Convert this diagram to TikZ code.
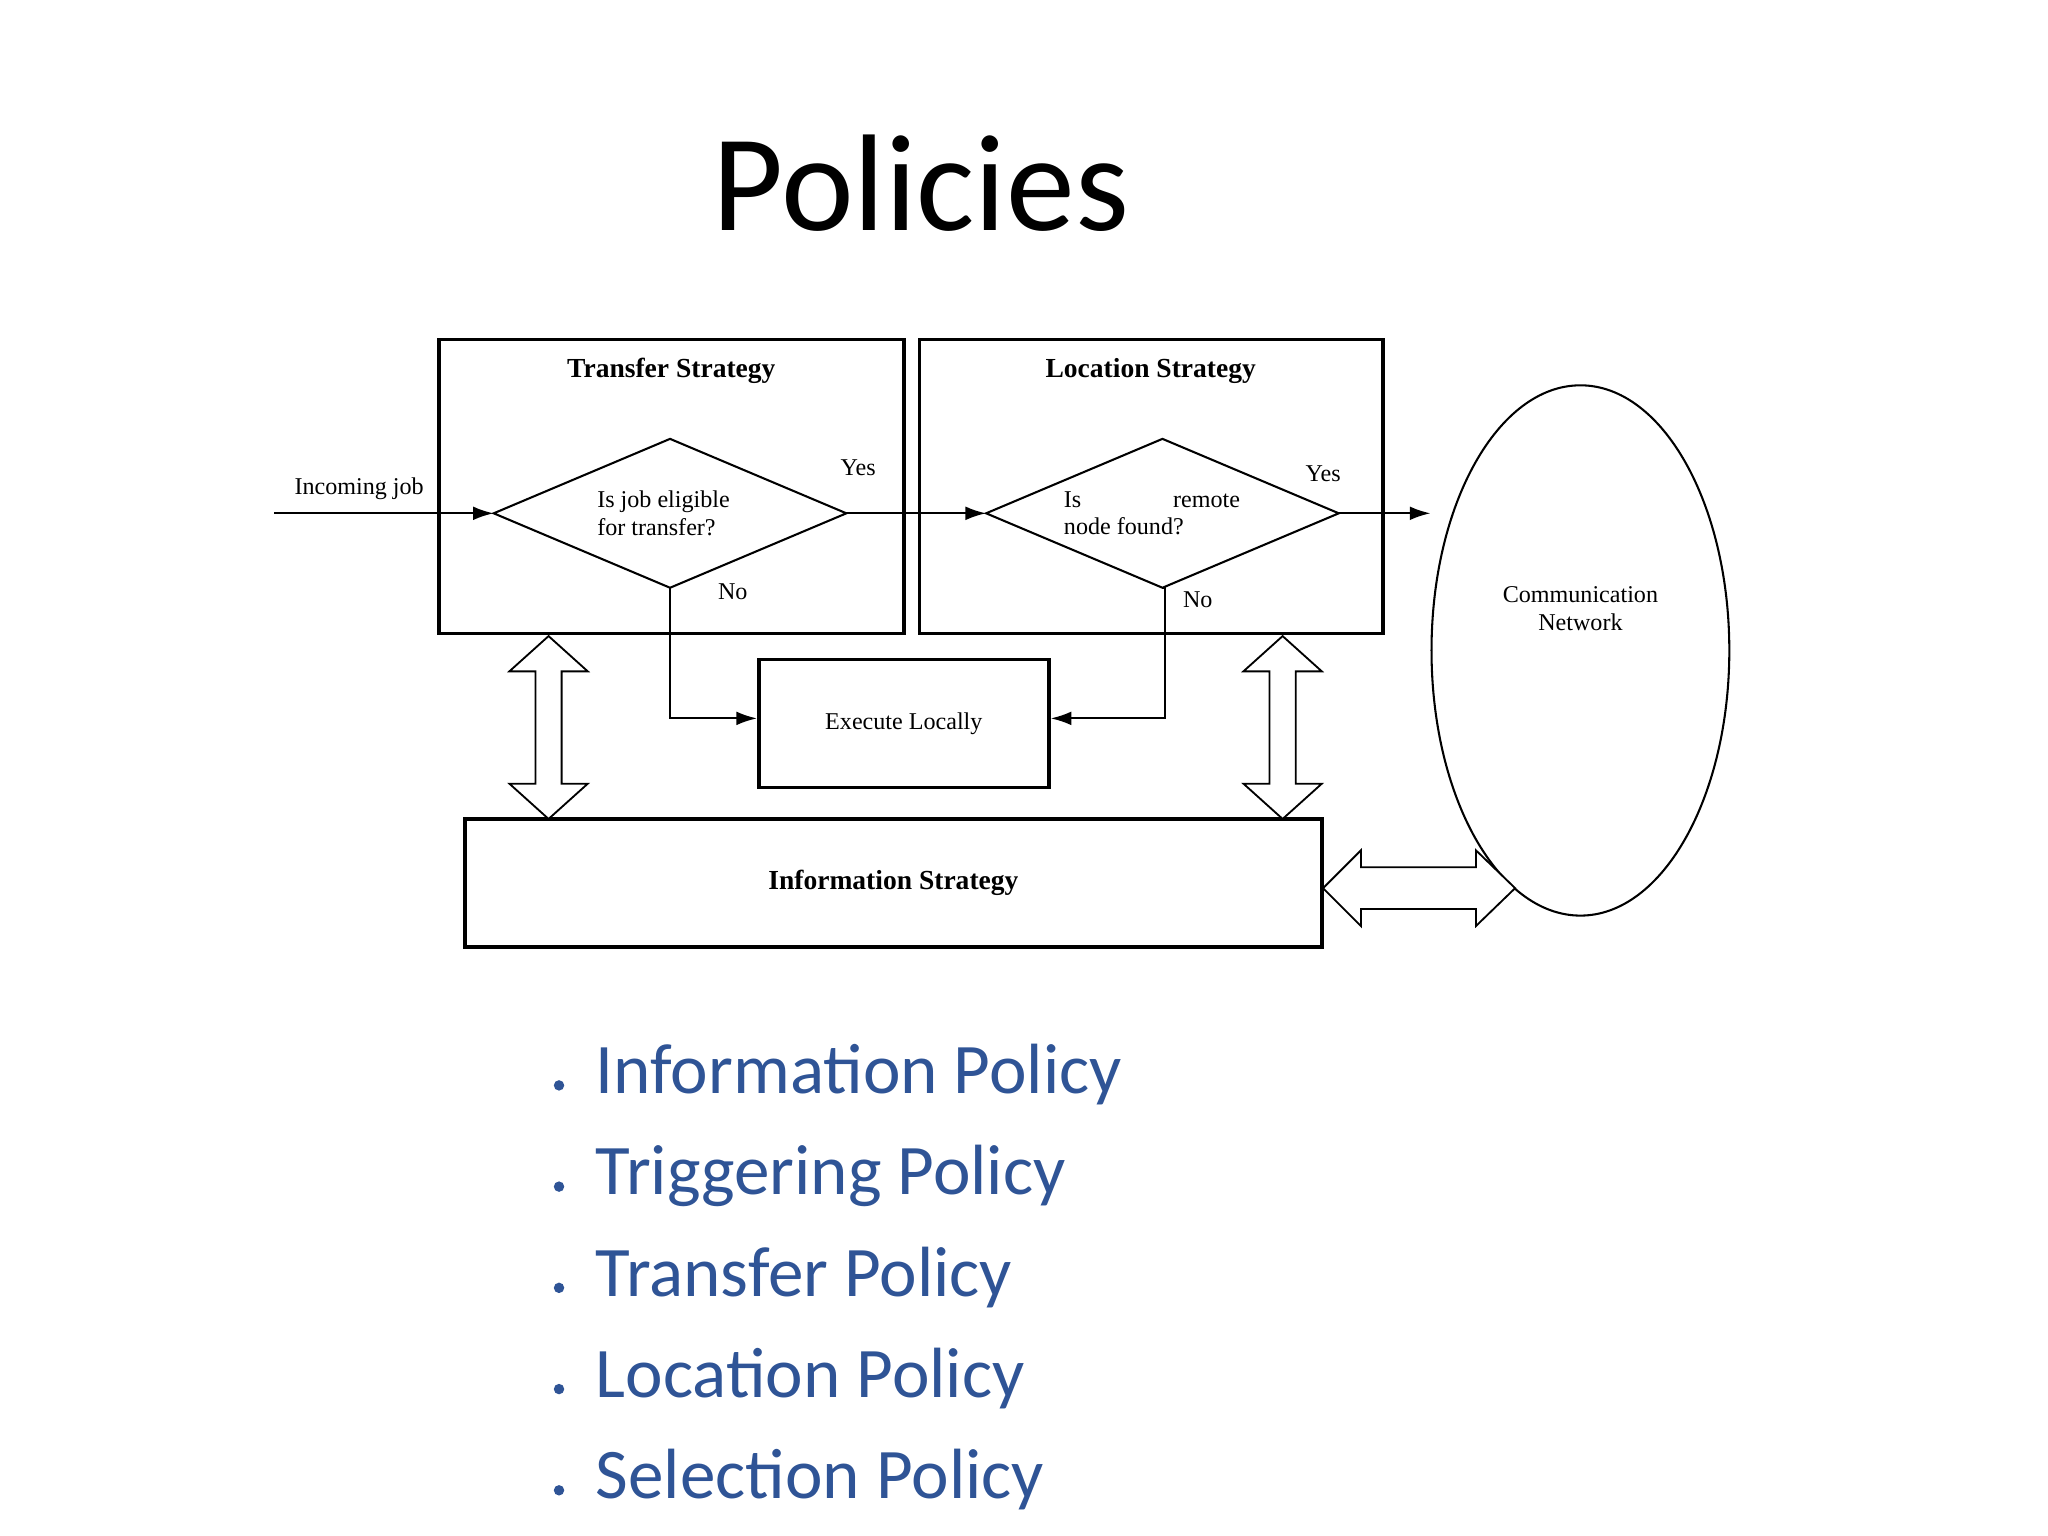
\documentclass[tikz,border=0pt]{standalone}
\usepackage{fontspec}
\setmainfont{Carlito}
\newfontfamily\serif{Liberation Serif}
\usetikzlibrary{arrows.meta,shapes.geometric}
\definecolor{bl}{RGB}{47,84,150}
\tikzset{
 box/.style={draw,line width=1.6pt},
 ln/.style={line width=0.9pt},
 arr/.style={ln,-{Latex[length=9pt,width=6pt]}},
 lab/.style={font=\serif\fontsize{10.5}{12}\selectfont},
 ttl/.style={font=\serif\bfseries\fontsize{12}{14}\selectfont},
 dbl/.style={draw,line width=0.8pt,fill=white},
 bul/.style={anchor=west,text=bl,font=\fontsize{31}{36}\selectfont}
}
\begin{document}
\begin{tikzpicture}[x=0.02cm,y=-0.02cm]
\useasboundingbox (0,0) rectangle (1568,1176);
\node[font=\fontsize{60}{70}\selectfont] (title) at (705,140) {Policies};
% boxes
\draw[box] (336,260) rectangle (692,485);
\draw[box] (704,260) rectangle (1059,485);
\node[ttl] (ts) at (514,284) {Transfer Strategy};
\node[ttl] (ls) at (881,284) {Location Strategy};
\node[box,minimum width=222*0.02cm,minimum height=98*0.02cm,lab] (ex) at (692,554) {Execute Locally};
\node[box,minimum width=656*0.02cm,minimum height=98*0.02cm,ttl] (is) at (684,676) {Information Strategy};
\node[draw,ln,ellipse,minimum width=228*0.02cm,minimum height=406*0.02cm] (cn) at (1210,498) {};
\node[lab,align=center] at (1210,466) {Communication\\Network};
% diamonds
\coordinate (d1l) at (378,393); \coordinate (d1t) at (513,336); \coordinate (d1r) at (648,393); \coordinate (d1b) at (513,450);
\coordinate (d2l) at (755,393); \coordinate (d2t) at (890,336); \coordinate (d2r) at (1025,393); \coordinate (d2b) at (890,450);
\draw[ln] (d1l)--(d1t)--(d1r)--(d1b)--cycle;
\draw[ln] (d2l)--(d2t)--(d2r)--(d2b)--cycle;
\node[lab,align=left] at (508,393) {Is job eligible\\for transfer?};
\node[lab,align=left] at (882,393) {Is\hspace{40pt}remote\\node found?};
\coordinate (inc) at (210,393);
\draw[arr] (inc) -- (d1l);
\node[lab] at (275,374) {Incoming job};
\draw[arr] (d1r) -- (d2l);
\draw[arr] (d2r) -- (cn.west |- d2r);
\node[lab] at (657,358) {Yes};
\node[lab] at (1013,363) {Yes};
\node[lab] at (561,453) {No};
\node[lab] at (917,459) {No};
\draw[arr] (d1b) -- (513,550) -- (ex.west |- 0,550);
\draw[arr] (d2b) -- (892,450) |- (ex.east |- 0,550);
% vertical double arrows
\foreach \cx in {420,982}{
\draw[dbl] (\cx,487) -- (\cx+30,514) -- (\cx+10,514) -- (\cx+10,600) -- (\cx+30,600) -- (\cx,627) -- (\cx-30,600) -- (\cx-10,600) -- (\cx-10,514) -- (\cx-30,514) -- cycle;}
% horizontal double arrow
\draw[dbl] (1013,680) -- (1042,651) -- (1042,664) -- (1130,664) -- (1130,651) -- (1160,680) -- (1130,709) -- (1130,696) -- (1042,696) -- (1042,709) -- cycle;
% bullets
\foreach \t [count=\i] in {Information Policy,Triggering Policy,Transfer Policy,Location Policy,Selection Policy}{
\fill[bl] (428,831+77.5*\i-77.5) circle (4);
\node[bul] at (450,823+77.5*\i-77.5) {\t};}
\end{tikzpicture}
\end{document}
